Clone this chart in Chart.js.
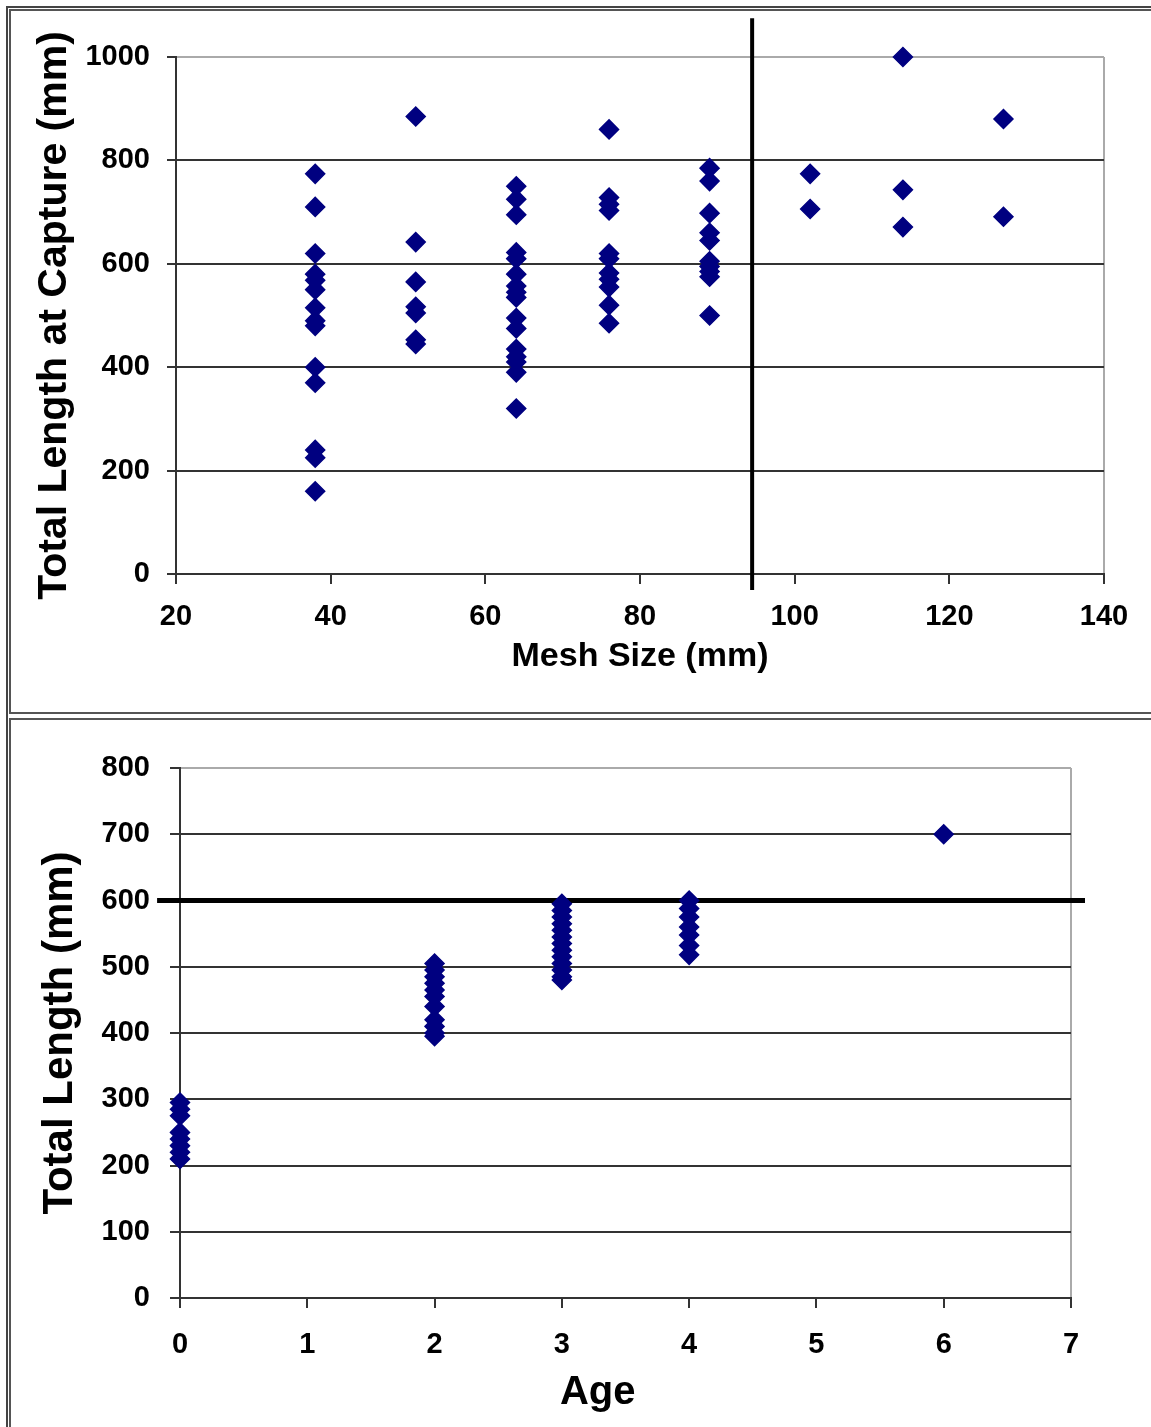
<!DOCTYPE html>
<html>
<head>
<meta charset="utf-8">
<script src="https://cdn.jsdelivr.net/npm/chart.js@4.4.1/dist/chart.umd.min.js"></script>
<style>
  body{margin:0;background:#fff;overflow:hidden;width:1151px;height:1427px;position:relative}
  canvas{position:absolute;left:0}
  #meshChart{top:0}
  #ageChart{top:714px}
  .ln{position:absolute;pointer-events:none;box-sizing:border-box}
</style>
</head>
<body>
<canvas id="meshChart" width="1151" height="714"></canvas>
<canvas id="ageChart" width="1151" height="713"></canvas>
<div class="ln" style="left:6px;top:6px;width:1300px;height:1500px;border-left:2px solid #444;border-top:2px solid #444"></div>
<div class="ln" style="left:9px;top:9px;width:1300px;height:705px;border:2px solid #555"></div>
<div class="ln" style="left:9px;top:718px;width:1300px;height:800px;border-left:2px solid #555;border-top:2px solid #555"></div>
<script>
// top panel: length at capture by gill-net mesh size
const meshSizes = [38, 51, 64, 76, 89, 102, 114, 127];
const lenMesh38  = [774, 710, 620, 580, 568, 550, 515, 490, 480, 400, 370, 240, 225, 160];
const lenMesh51  = [885, 642, 565, 517, 505, 453, 445];
const lenMesh64  = [750, 725, 695, 622, 610, 580, 557, 545, 535, 495, 475, 435, 420, 410, 390, 320];
const lenMesh76  = [860, 728, 715, 703, 620, 610, 582, 570, 555, 520, 485];
const lenMesh89  = [785, 760, 698, 660, 645, 605, 595, 585, 575, 500];
const lenMesh102 = [774, 706];
const lenMesh114 = [1000, 743, 671];
const lenMesh127 = [880, 691];
const meshCutoff = 94.5;
const meshCutoffSpan = [-31, 1075];

// bottom panel: length by age
const ages = [0, 2, 3, 4, 6];
const lenAge0 = [295, 285, 275, 250, 240, 230, 220, 210];
const lenAge2 = [505, 495, 485, 475, 465, 455, 440, 420, 410, 400, 395];
const lenAge3 = [595, 585, 575, 565, 555, 545, 535, 525, 515, 505, 495, 485, 480];
const lenAge4 = [600, 588, 575, 560, 548, 532, 518];
const lenAge6 = [700];
const lengthLimit = 600;
const lengthLimitSpan = [-0.18, 7.11];

const NAVY = '#000080';
const FONT = '"Liberation Sans", Arial, sans-serif';

function toPoints(xs, groups){
  const pts = [];
  xs.forEach((x,i)=>groups[i].forEach(y=>pts.push({x:x, y:y})));
  return pts;
}

const meshPoints = toPoints(meshSizes, [lenMesh38, lenMesh51, lenMesh64, lenMesh76, lenMesh89, lenMesh102, lenMesh114, lenMesh127]);
const agePoints = toPoints(ages, [lenAge0, lenAge2, lenAge3, lenAge4, lenAge6]);

function markers(pts){
  return { data: pts, pointStyle:'rectRot', pointRadius:9.5, pointHoverRadius:9.5,
    backgroundColor:NAVY, borderColor:NAVY, borderWidth:1.5, clip:false };
}

function gridFor(maxVal){
  return {
    color: c => (c.tick && c.tick.value === maxVal) ? '#aaa' : '#333',
    lineWidth: 2, tickColor:'#333'
  };
}

const plain = v => String(v);

// top chart
new Chart(document.getElementById('meshChart'), {
  type:'scatter',
  data:{ datasets:[
    markers(meshPoints),
    { data:[{x:meshCutoff,y:meshCutoffSpan[0]},{x:meshCutoff,y:meshCutoffSpan[1]}],
      showLine:true, borderColor:'#000', borderWidth:4, pointRadius:0, clip:false }
  ]},
  options:{
    responsive:false, animation:false,
    layout:{padding:{left:18, right:47, top:57, bottom:0}},
    plugins:{legend:{display:false}, tooltip:{enabled:false}},
    scales:{
      x:{
        type:'linear', min:20, max:140,
        ticks:{stepSize:20, color:'#000', padding:16, callback:plain, font:{family:FONT, size:29, weight:'bold'}},
        grid:{color: c => (c.tick && c.tick.value === 140) ? '#aaa' : 'rgba(0,0,0,0)', lineWidth:2, tickColor:'#333', tickLength:10},
        border:{color:'#333', width:2},
        title:{display:true, text:'Mesh Size (mm)', color:'#000', font:{family:FONT, size:34, weight:'bold'}, padding:{top:0, bottom:37}},
        afterFit: s => { s.height = 140; }
      },
      y:{
        min:0, max:1000,
        ticks:{stepSize:200, color:'#000', padding:17, callback:plain, font:{family:FONT, size:29, weight:'bold'}},
        grid:Object.assign(gridFor(1000), {tickLength:9}),
        border:{color:'#333', width:2},
        title:{display:true, text:'Total Length at Capture (mm)', color:'#000', font:{family:FONT, size:41, weight:'bold'}, padding:{top:12, bottom:0}},
        afterFit: s => { s.width = 158; }
      }
    }
  }
});

// bottom chart
new Chart(document.getElementById('ageChart'), {
  type:'scatter',
  data:{ datasets:[
    markers(agePoints),
    { data:[{x:lengthLimitSpan[0],y:lengthLimit},{x:lengthLimitSpan[1],y:lengthLimit}],
      showLine:true, borderColor:'#000', borderWidth:5, pointRadius:0, clip:false }
  ]},
  options:{
    responsive:false, animation:false,
    layout:{padding:{left:20, right:80, top:54, bottom:0}},
    plugins:{legend:{display:false}, tooltip:{enabled:false}},
    scales:{
      x:{
        type:'linear', min:0, max:7,
        ticks:{stepSize:1, color:'#000', padding:20, font:{family:FONT, size:29, weight:'bold'}},
        grid:{color: c => (c.tick && c.tick.value === 7) ? '#aaa' : 'rgba(0,0,0,0)', lineWidth:2, tickColor:'#333', tickLength:10},
        border:{color:'#333', width:2},
        title:{display:true, text:'Age     ', color:'#000', font:{family:FONT, size:40, weight:'bold'}, padding:{top:0, bottom:10}},
        afterFit: s => { s.height = 129; }
      },
      y:{
        min:0, max:800,
        ticks:{stepSize:100, color:'#000', padding:20, callback:plain, font:{family:FONT, size:29, weight:'bold'}},
        grid:Object.assign(gridFor(800), {tickLength:10}),
        border:{color:'#333', width:2},
        title:{display:true, text:'Total Length (mm)', color:'#000', font:{family:FONT, size:42, weight:'bold'}, padding:{top:15, bottom:0}},
        afterFit: s => { s.width = 160; }
      }
    }
  }
});
</script>
</body>
</html>
